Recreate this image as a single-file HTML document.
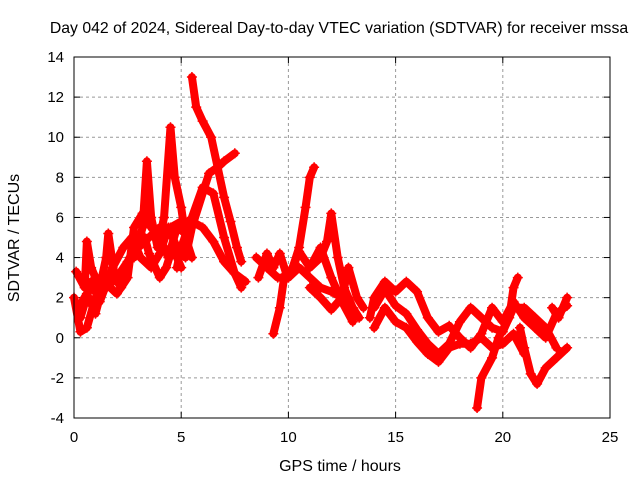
<!DOCTYPE html>
<html><head><meta charset="utf-8"><style>
body{margin:0;background:#fff}
svg{font-family:"Liberation Sans",sans-serif;font-size:15px}
</style></head><body>
<svg id="c" width="640" height="480" xmlns="http://www.w3.org/2000/svg">
<text x="339" y="33" text-anchor="middle" style="font-size:15.8px">Day 042 of 2024, Sidereal Day-to-day VTEC variation (SDTVAR) for receiver mssa</text>
<text x="340" y="471" text-anchor="middle" style="font-size:16px">GPS time / hours</text>
<text transform="translate(19,238) rotate(-90)" text-anchor="middle" style="font-size:16px">SDTVAR / TECUs</text>
<g id="grid"></g><g id="ticks"></g><g id="data"></g>
<rect x="74" y="57" width="536" height="361" fill="none" stroke="#000" stroke-width="1"/>
</svg>
<script>
const xTicks=[0,5,10,15,20,25];
const yTicks=[-4,-2,0,2,4,6,8,10,12,14];
const tracks=[
[[0,2],[0.3,0.3],[0.6,0.5],[1,2],[1.5,2.5],[2,3],[2.5,3.8],[3,4.5],[3.5,5],[4,5.5],[4.5,5.5],[5,5.8],[5.5,5.8],[6,5.5],[6.5,4.8],[7,3.8],[7.5,3.2],[8,2.8]],
[[5.5,13],[5.7,11.5],[6,10.8],[6.4,10],[6.7,8.5],[7,7],[7.3,5.8],[7.6,4.5],[7.8,3.8]],
[[5.2,4],[5.5,5.5],[6,7.2],[6.3,8.2],[6.7,8.5],[7,8.8],[7.5,9.2]],
[[4.8,3.5],[5,4.5],[5.5,6],[6,7.5],[6.5,7.2],[7,5],[7.5,3.2],[7.8,2.5]],
[[2.8,4],[3.2,5.5],[3.4,8.8],[3.6,6],[3.9,4.5],[4.2,6],[4.5,10.5],[4.7,8],[5,6.5],[5.2,5],[5.5,4]],
[[0.1,3.3],[0.5,2.5],[0.6,4.8],[0.8,3.5],[1.2,2.5],[1.5,4],[1.6,5.2],[1.9,3],[2.2,2.5],[2.6,4],[3,5],[3.3,5],[3.5,4.2],[4,3],[4.3,3.5],[4.6,4.5],[5,3.5]],
[[0.2,1.5],[0.6,2.2],[1,1.2],[1.4,2.8],[2,2.2],[2.5,3],[2.8,5.5],[3.2,6.2],[3.6,5.5],[4,5],[4.4,4],[4.8,5.5],[5.2,5.2]],
[[0.3,1],[0.8,2.8],[1.2,1.8],[1.8,3.5],[2.3,4.5],[2.7,5],[3.1,4],[3.6,3.5],[4,4.2],[4.4,5.5],[4.8,4.5]],
[[8.5,4],[9,3.5],[9.5,3],[10,3],[10.5,3.5],[11,3],[11.5,2.5],[12,2.3],[12.5,2],[13,1.5]],
[[8.6,3],[9,4.2],[9.3,3.5],[9.6,4.2],[9.9,3.2]],
[[9.8,3],[9.6,1.5],[9.3,0.2]],
[[10.2,3.5],[10.5,4.5],[10.8,6.5],[11,8],[11.2,8.5]],
[[11,3.5],[11.5,4],[11.8,4.8],[12,6.2],[12.3,4],[12.6,2.5],[13,1.5],[13.3,1]],
[[11,2.5],[11.5,2],[12,1.4],[12.5,2],[12.8,3.5],[13.2,2],[13.5,1.5]],
[[10,3],[10.5,4.3],[11,3.5],[11.5,4.5],[12,3],[12.5,1.8],[13,0.8]],
[[13.8,1],[14,2],[14.5,2.8],[15,2.3],[15.5,2.8],[16,2.3],[16.5,1],[17,0.3],[17.5,0.6],[18,0],[18.5,-0.5],[19,0.2],[19.5,1.5],[20,0.8],[20.5,1.8],[21,1],[21.5,0.5],[22,0],[22.5,1.2],[23,1.6]],
[[14,1.5],[14.5,2.4],[15,1.6],[15.5,1.2],[16,0.4],[16.5,-0.3],[17,-0.8],[17.5,-0.3],[18,0.8],[18.5,1.5],[19,1],[19.5,0.5],[20,0.3],[20.5,1.5],[21,1.5],[21.5,1],[22,0.5],[22.5,-0.5]],
[[14,0.5],[14.5,1.5],[15,0.8],[15.5,0.5],[16,-0.2],[16.5,-0.8],[17,-1.2],[17.5,-0.5],[18,-0.3],[18.5,-0.3],[19,0],[19.5,-0.5],[20,-0.3],[20.5,0.2],[21,-0.8]],
[[18.8,-3.5],[19,-2],[19.5,-1],[19.8,0],[20.3,1],[20.5,2.5],[20.7,3]],
[[20.8,0.5],[21,-0.5],[21.3,-1.8],[21.6,-2.3],[22,-1.5],[22.5,-1],[23,-0.5]],
[[22.3,1.5],[22.6,1],[23,2]]
];
const X0=74,X1=610,Y0=418,Y1=57;
function xs(t){return X0+(t-0)/(25-0)*(X1-X0);}
function ys(v){return Y0-(v-(-4))/(14-(-4))*(Y0-Y1);}
const NS="http://www.w3.org/2000/svg";
function mk(tag,attrs,parent){const e=document.createElementNS(NS,tag);for(const k in attrs)e.setAttribute(k,attrs[k]);parent.appendChild(e);return e;}
const grid=document.getElementById('grid'),ticks=document.getElementById('ticks'),data=document.getElementById('data');
xTicks.forEach(t=>{const x=xs(t);
 if(t>0&&t<25){const g=mk('line',{x1:x,x2:x,y1:Y1,y2:Y0,stroke:'#999','stroke-dasharray':'3,3'},grid);
 
 }
 mk('line',{x1:x,x2:x,y1:Y0,y2:Y0-6,stroke:'#000'},ticks);mk('line',{x1:x,x2:x,y1:Y1,y2:Y1+6,stroke:'#000'},ticks);
 const l=mk('text',{x:x,y:Y0+24,'text-anchor':'middle'},ticks);l.textContent=t;
 
 });
yTicks.forEach(v=>{const y=ys(v);
 if(v>-4&&v<14){const g=mk('line',{x1:X0,x2:X1,y1:y,y2:y,stroke:'#999','stroke-dasharray':'3,3'},grid);
 
 }
 mk('line',{x1:X0,x2:X0+6,y1:y,y2:y,stroke:'#000'},ticks);mk('line',{x1:X1,x2:X1-6,y1:y,y2:y,stroke:'#000'},ticks);
 const l=mk('text',{x:X0-10,y:y+5,'text-anchor':'end'},ticks);l.textContent=v;
 
 });
tracks.forEach((tr,i)=>{
 const p=mk('polyline',{points:tr.map(d=>xs(d[0])+','+ys(d[1])).join(' '),fill:'none',stroke:'#f00','stroke-width':8,'stroke-linejoin':'round','stroke-linecap':'round'},data);
 
 
 tr.forEach(d=>{const x=xs(d[0]),y=ys(d[1]);
  const m=mk('path',{d:`M${x-5},${y}H${x+5}M${x},${y-5}V${y+5}`,stroke:'#f00','stroke-width':1.5},data);
  
  });
});
</script>
</body></html>
